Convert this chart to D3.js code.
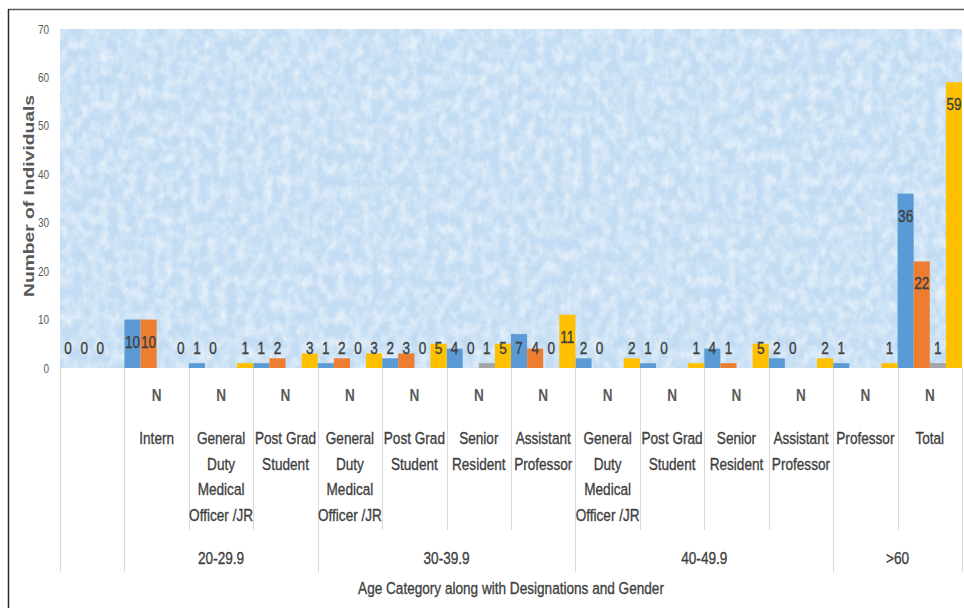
<!DOCTYPE html>
<html>
<head>
<meta charset="utf-8">
<script src="https://cdn.jsdelivr.net/npm/d3@7"></script>
<style>
  html, body { margin: 0; padding: 0; background: #fff; }
  svg { display: block; }
  text { font-family: "Liberation Sans", Arial, sans-serif; }
</style>
</head>
<body>
<svg id="chart" width="964" height="608"></svg>
<script>
// Designation columns (one per category), with their wrapped label lines
const designations = [
  [],
  ["Intern"],
  ["General", "Duty", "Medical", "Officer /JR"],
  ["Post Grad", "Student"],
  ["General", "Duty", "Medical", "Officer /JR"],
  ["Post Grad", "Student"],
  ["Senior", "Resident"],
  ["Assistant", "Professor"],
  ["General", "Duty", "Medical", "Officer /JR"],
  ["Post Grad", "Student"],
  ["Senior", "Resident"],
  ["Assistant", "Professor"],
  ["Professor"],
  ["Total"]
];
const genderRow = ["", "N", "N", "N", "N", "N", "N", "N", "N", "N", "N", "N", "N", "N"];
const ageGroups = ["", "20-29.9", "30-39.9", "40-49.9", ">60"];
const ageGroupSpans = [1, 3, 4, 4, 2];

// Counts per column; null = no bar / no label
const seriesNames = ["Male", "Female", "Other", "Total"];
const male   = [0, 10, 1, 1, 1, 2, 4, 7, 2, 1, 4, 2, 1, 36];
const female = [0, 10, 0, 2, 2, 3, 0, 4, 0, 0, 1, 0, null, 22];
const other  = [0, null, null, null, 0, 0, 1, 0, null, null, null, null, null, 1];
const total  = [null, 0, 1, 3, 3, 5, 5, 11, 2, 1, 5, 2, 1, 59];
const seriesValues = [male, female, other, total];
const seriesColors = ["#5b9bd5", "#ed7d31", "#a5a5a5", "#ffc000"];

const yTicks = [0, 10, 20, 30, 40, 50, 60, 70];

const svg = d3.select("#chart");
const plot = { left: 60, right: 962, top: 29, bottom: 368 };
const SQ = 0.8; // horizontal squeeze for a narrow, Calibri-like text face

// Place a text at (x, y) with its glyphs narrowed horizontally
function narrowText(sel, fx, fy) {
  sel.attr("transform", (d, i) => `translate(${fx(d, i)},${fy(d, i)}) scale(${SQ},1)`);
}
// Slightly heavier strokes for the semi-bold look of the labels
function heavy(sel, color) {
  sel.attr("fill", color).attr("stroke", color).attr("stroke-width", 0.35);
}

const defs = svg.append("defs");
const f = defs.append("filter").attr("id", "tex")
  .attr("x", 0).attr("y", 0).attr("width", 1).attr("height", 1);
f.append("feTurbulence").attr("type", "fractalNoise")
  .attr("baseFrequency", "0.11 0.08").attr("numOctaves", 4).attr("seed", 11).attr("result", "n");
f.append("feColorMatrix").attr("in", "n").attr("type", "matrix")
  .attr("values", "0 0 0 0 1  0 0 0 0 1  0 0 0 0 1  1.8 0 0 0 -0.6");

// Frame
svg.append("line").attr("x1", 8).attr("x2", 964).attr("y1", 9.5).attr("y2", 9.5)
  .attr("stroke", "#5a5a5a").attr("stroke-width", 1.5);
svg.append("line").attr("x1", 8.5).attr("x2", 8.5).attr("y1", 9).attr("y2", 608)
  .attr("stroke", "#2b2b2b").attr("stroke-width", 1.5);

// Plot background
svg.append("rect").attr("x", plot.left).attr("y", plot.top)
  .attr("width", plot.right - plot.left).attr("height", plot.bottom - plot.top)
  .attr("fill", "#c2dcf3");
svg.append("rect").attr("x", plot.left).attr("y", plot.top)
  .attr("width", plot.right - plot.left).attr("height", plot.bottom - plot.top)
  .attr("fill", "#fff").attr("filter", "url(#tex)").attr("opacity", 0.6);

const x = d3.scaleBand().domain(d3.range(designations.length))
  .range([plot.left, plot.right]).padding(0);
const xs = d3.scaleBand().domain(d3.range(seriesNames.length))
  .range([0, x.bandwidth()]).padding(0);
const y = d3.scaleLinear().domain([0, 70]).range([plot.bottom, plot.top]);

// Y axis
const yAxis = svg.append("g").attr("transform", `translate(${plot.left - 9},0)`)
  .call(d3.axisLeft(y).tickValues(yTicks).tickSize(0).tickPadding(2));
yAxis.select(".domain").remove();
yAxis.selectAll("text").attr("fill", "#595959").style("font-size", "12.5px")
  .attr("transform", `scale(${SQ},1)`).attr("x", -2 / SQ);

svg.append("text")
  .attr("transform", "translate(34,196) rotate(-90)")
  .attr("text-anchor", "middle").attr("fill", "#595959")
  .attr("textLength", 202).attr("lengthAdjust", "spacingAndGlyphs")
  .style("font-size", "15.5px").style("font-weight", "bold")
  .text("Number of Individuals");

// Bars
const cells = [];
seriesValues.forEach((vals, s) => vals.forEach((v, i) => {
  if (v !== null) cells.push({ i, s, v });
}));

svg.append("g").selectAll("rect").data(cells).join("rect")
  .attr("x", d => x(d.i) + xs(d.s))
  .attr("width", xs.bandwidth())
  .attr("y", d => y(d.v))
  .attr("height", d => y(0) - y(d.v))
  .attr("fill", d => seriesColors[d.s]);

svg.append("g").selectAll("text").data(cells).join("text")
  .call(narrowText,
    d => x(d.i) + xs(d.s) + xs.bandwidth() / 2,
    d => Math.min(y(d.v) + 22, y(0) - 20))
  .attr("dy", "0.35em")
  .attr("text-anchor", "middle")
  .call(heavy, "#404040")
  .style("font-size", "17px")
  .text(d => d.v);

// Category table below the plot
const grid = svg.append("g").attr("stroke", "#d9d9d9").attr("stroke-width", 1);
const groupStarts = [0];
ageGroupSpans.forEach((n, k) => groupStarts.push(groupStarts[k] + n));
d3.range(designations.length + 1).forEach(k => {
  const xp = k < designations.length ? x(k) : plot.right;
  const isGroupEdge = groupStarts.includes(k);
  grid.append("line")
    .attr("x1", Math.round(xp) + 0.5).attr("x2", Math.round(xp) + 0.5)
    .attr("y1", plot.bottom).attr("y2", isGroupEdge ? 572 : 530);
});

svg.append("g").selectAll("text").data(genderRow).join("text")
  .call(narrowText, (d, i) => x(i) + x.bandwidth() / 2, () => 395)
  .attr("dy", "0.35em")
  .attr("text-anchor", "middle").attr("fill", "#595959")
  .style("font-size", "17px").style("font-weight", "bold")
  .text(d => d);

const desigLines = [];
designations.forEach((lines, i) => lines.forEach((ln, j) => desigLines.push({ i, j, ln })));
svg.append("g").selectAll("text").data(desigLines).join("text")
  .call(narrowText, d => x(d.i) + x.bandwidth() / 2, d => 438 + d.j * 25.7)
  .attr("dy", "0.35em")
  .attr("text-anchor", "middle").call(heavy, "#3f3f3f")
  .style("font-size", "17px")
  .text(d => d.ln);

svg.append("g").selectAll("text").data(ageGroups).join("text")
  .call(narrowText, (d, k) => {
    const a = x(groupStarts[k]);
    const b = groupStarts[k + 1] < designations.length ? x(groupStarts[k + 1]) : plot.right;
    return (a + b) / 2;
  }, () => 558)
  .attr("dy", "0.35em")
  .attr("text-anchor", "middle").call(heavy, "#3f3f3f")
  .style("font-size", "17px")
  .text(d => d);

svg.append("text")
  .call(narrowText, () => (plot.left + plot.right) / 2, () => 588)
  .attr("dy", "0.35em")
  .attr("text-anchor", "middle").call(heavy, "#3f3f3f")
  .style("font-size", "17px")
  .text("Age Category along with Designations and Gender");
</script>
</body>
</html>
